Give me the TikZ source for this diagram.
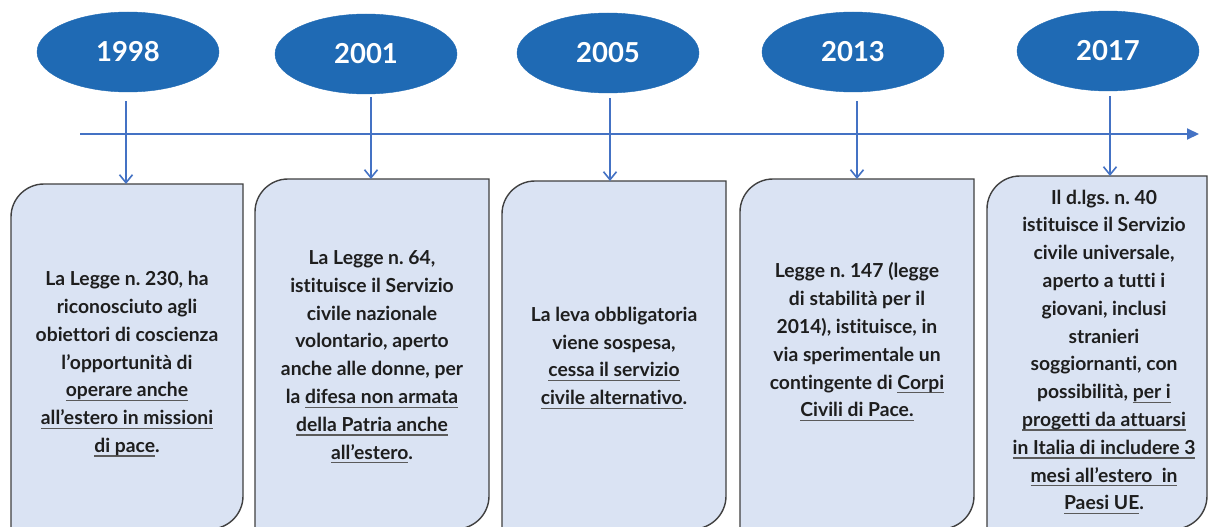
\documentclass[tikz,border=0pt]{standalone}
\usepackage{fontspec}
\setmainfont{Lato}[Ligatures=NoCommon]
\frenchspacing
\usetikzlibrary{arrows.meta,shapes.geometric}
\definecolor{yearblue}{HTML}{1F6AB4}
\definecolor{boxfill}{HTML}{DAE3F3}
\definecolor{boxline}{HTML}{404040}
\definecolor{arrowblue}{HTML}{4472C4}
\definecolor{ulgray}{HTML}{5A5A5A}
\definecolor{txt}{HTML}{1E1E1E}
\newsavebox\gulbox
\newcommand\gul[1]{\leavevmode\sbox\gulbox{#1}\rlap{\textcolor{ulgray}{\rule[-0.22em]{\wd\gulbox}{1.3pt}}}\usebox\gulbox}
% box with rounded top-left and bottom-right corners: x1,y1,x2,y2 (pixel coords, y down)
\newcommand\diagbox[4]{%
  \draw[boxstyle] (#1,#2+33) .. controls (#1,#2+14.8) and (#1+14.8,#2) .. (#1+33,#2)
    -- (#3,#2) -- (#3,#4-33) .. controls (#3,#4-14.8) and (#3-14.8,#4) .. (#3-33,#4)
    -- (#1,#4) -- cycle;}
\tikzset{
  yearnode/.style={ellipse, fill=yearblue, draw=yearblue, inner sep=0pt,
    minimum width=182pt, minimum height=80pt, text=white,
    font=\fontsize{27.5}{30}\selectfont\bfseries},
  boxstyle/.style={fill=boxfill, draw=boxline, line width=1.4pt},
  boxtext/.style={align=center, text=txt, inner sep=0pt,
    font=\fontsize{19.3}{27.8}\selectfont\bfseries\frenchspacing},
  varrow/.style={draw=arrowblue, line width=1.8pt,
    -{Straight Barb[length=8pt,width=13pt,line width=1.6pt]}},
  harrow/.style={draw=arrowblue, line width=2pt,
    -{Triangle[length=12pt,width=11pt]}},
}
\begin{document}
\begin{tikzpicture}[x=1pt,y=-1pt]
\useasboundingbox (0,0) rectangle (1208,527);
\fill[white] (0,0) rectangle (1208,527);

% year ellipses
\node[yearnode] (e1) at (128,52) {1998};
\node[yearnode] (e2) at (366,54) {2001};
\node[yearnode] (e3) at (608,53) {2005};
\node[yearnode] (e4) at (853,52) {2013};
\node[yearnode] (e5) at (1108,51) {2017};

% timeline
\coordinate (ls) at (80,134);
\coordinate (le) at (1199,134);
\draw[harrow] (ls) -- (le);

% boxes
\diagbox{11}{184}{243}{529}
\diagbox{255}{179}{489}{529}
\diagbox{502}{181}{726}{529}
\diagbox{740}{179}{974}{529}
\diagbox{987}{176}{1207}{529}

% arrow coordinates
\coordinate (s1) at (126,101); \coordinate (t1) at (126,184);
\coordinate (s2) at (371,97);  \coordinate (t2) at (371,179);
\coordinate (s3) at (610,98);  \coordinate (t3) at (610,181);
\coordinate (s4) at (857,101); \coordinate (t4) at (857,179);
\coordinate (s5) at (1110,96); \coordinate (t5) at (1110,176);
\foreach \i in {1,...,5}{\draw[varrow] (s\i) -- (t\i);}

% texts
\node[boxtext] (b1) at (127,364) {La Legge n. 230, ha\\riconosciuto agli\\obiettori di coscienza\\l’opportunità di\\\gul{operare anche}\\\gul{all’estero in missioni}\\\gul{di pace}.};
\node[boxtext] (b2) at (372,357) {La Legge n. 64,\\istituisce il Servizio\\civile nazionale\\volontario, aperto\\anche alle donne, per\\la \gul{difesa non armata}\\\gul{della Patria anche}\\\gul{all’estero}.};
\node[boxtext] (b3) at (614,358) {La leva obbligatoria\\viene sospesa,\\\gul{cessa il servizio}\\\gul{civile alternativo}.};
\node[boxtext] (b4) at (857,342) {Legge n. 147 (legge\\di stabilità per il\\2014), istituisce, in\\via sperimentale un\\contingente di \gul{Corpi}\\\gul{Civili di Pace.}};
\node[boxtext] (b5) at (1104,352) {Il d.lgs. n. 40\\istituisce il Servizio\\civile universale,\\aperto a tutti i\\giovani, inclusi\\stranieri\\soggiornanti, con\\possibilità, \gul{per i}\\\gul{progetti da attuarsi}\\\gul{in Italia di includere 3}\\\gul{mesi all’estero\ \ in}\\\gul{Paesi UE}.};
\end{tikzpicture}
\end{document}
